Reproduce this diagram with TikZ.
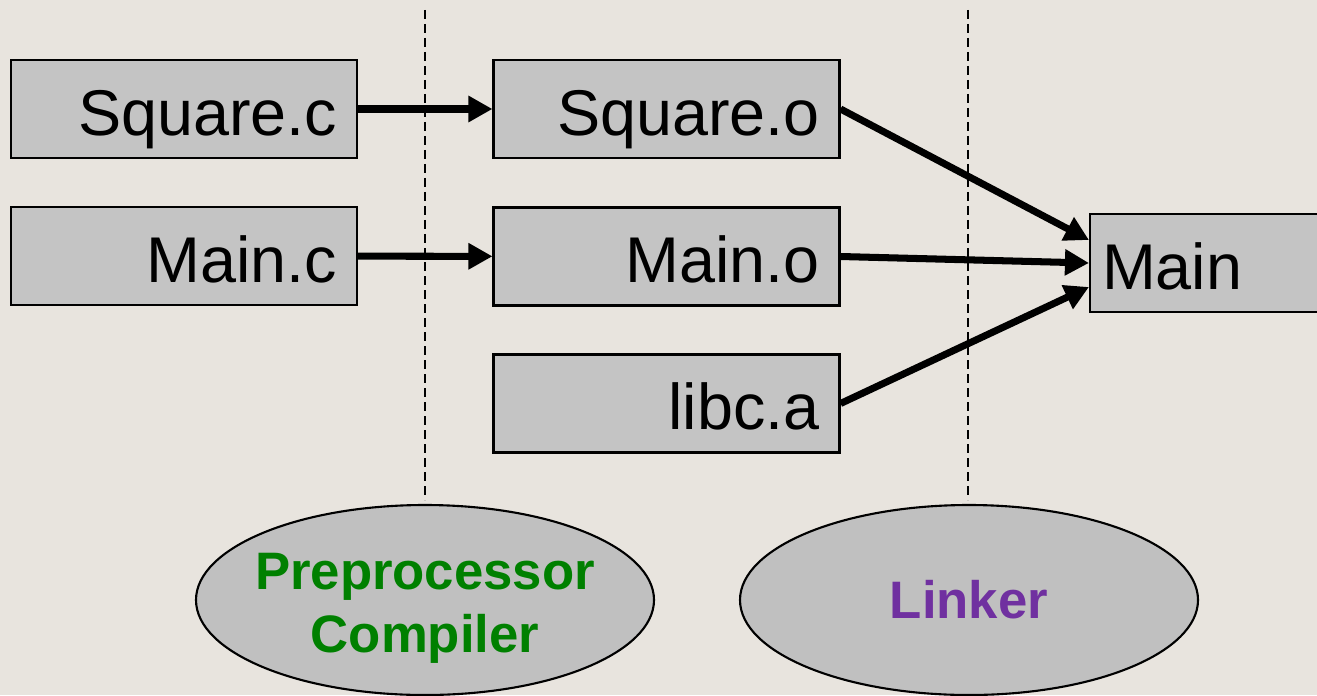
\documentclass[tikz,border=0pt]{standalone}
\usepackage{fontspec}
\setmainfont{Liberation Sans}
\usepackage{tikz}
\usetikzlibrary{arrows.meta,shapes,calc}

\definecolor{paper}{HTML}{E8E4DE}
\definecolor{boxgray}{HTML}{C4C4C4}
\definecolor{ovalgray}{HTML}{C0C0C0}
\definecolor{ppgreen}{HTML}{008000}
\definecolor{lkpurple}{HTML}{7030A0}

\tikzset{
  file/.style={draw=black, line width=0.6pt, fill=boxgray, minimum width=3.46cm,
    minimum height=0.98cm, text width=3.06cm, inner xsep=0.2cm, inner ysep=0pt,
    text height=0.75cm, text depth=0.23cm, align=right,
    font=\fontsize{18.4}{22}\selectfont},
  stage/.style={ellipse, draw=black, line width=0.6pt, fill=ovalgray, minimum width=4.58cm,
    minimum height=1.9cm, text width=3.4cm, inner xsep=-0.1cm, inner ysep=0pt, align=center,
    font=\fontsize{15}{18}\selectfont\bfseries},
  flow/.style={line width=2pt, -{Triangle[length=0.24cm,width=0.25cm]}},
  divider/.style={line width=0.5pt, dash pattern=on 0.09cm off 0.05cm}
}

\begin{document}
\begin{tikzpicture}
\clip (0,0) rectangle (13.17,6.95);
\fill[paper] (0,0) rectangle (13.17,6.95);

% stage dividers
\draw[divider] (4.25,6.85) -- (4.25,1.95);
\draw[divider] (9.68,6.85) -- (9.68,1.95);

% source files
\node[file] (sqc) at (1.84,5.86) {Square.c};
\node[file] (mainc) at (1.84,4.39) {Main.c};

% objects and library
\node[file] (sqo) at (6.665,5.86) {Square.o};
\node[file] (maino) at (6.665,4.385) {Main.o};
\node[file] (libc) at (6.665,2.915) {libc.a};

% executable
\node[file, align=left, inner xsep=0.12cm, text width=3.22cm] (main) at (12.63,4.32) {Main};

% tools
\node[stage, text=ppgreen, text height=0.45cm, text depth=0.67cm] (pp) at (4.25,0.95) {Preprocessor\\Compiler};
\node[stage, text=lkpurple] (lk) at (9.69,0.95) {Linker};

% compile step
\draw[flow] (sqc) -- (sqo);
\draw[flow] (mainc) -- (maino);

% link step
\draw[flow] (sqo.east) -- ($(main.west)+(0,0.23)$);
\draw[flow] (maino.east) -- (main.west);
\draw[flow] (libc.east) -- ($(main.west)+(0,-0.24)$);
\end{tikzpicture}
\end{document}
